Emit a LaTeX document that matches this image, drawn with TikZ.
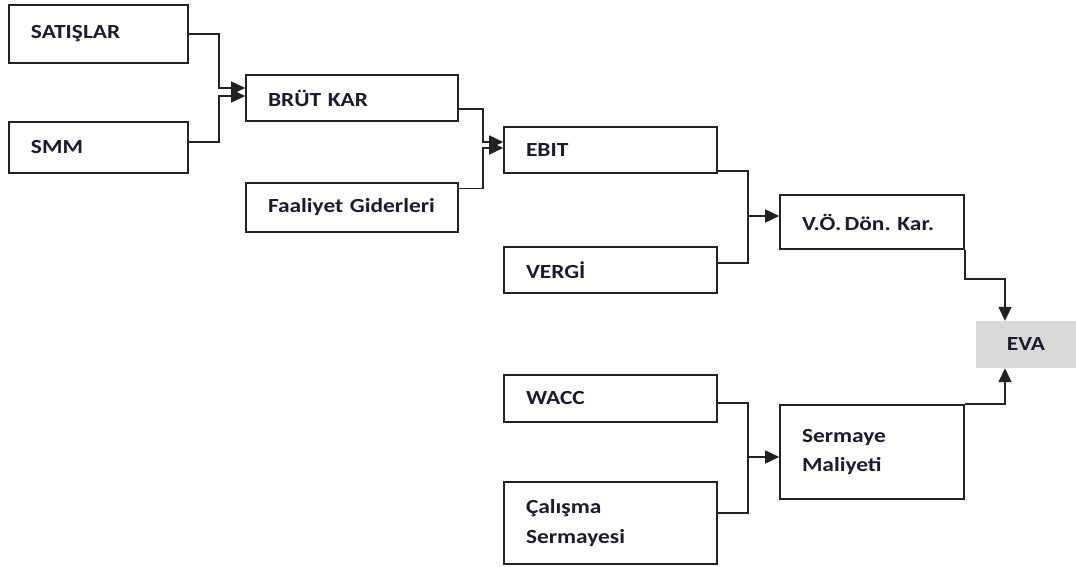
\documentclass[tikz,border=0pt]{standalone}
\usepackage{fontspec}
\setmainfont{Carlito}[FakeStretch=1.17]
\usetikzlibrary{arrows.meta}
\definecolor{edge}{HTML}{222222}
\definecolor{evafill}{HTML}{D9D9D9}
\definecolor{txt}{HTML}{1A1A30}
\frenchspacing
\begin{document}
\begin{tikzpicture}[x=1pt,y=-1pt,
  box/.style n args={2}{draw=edge, line width=1.6pt, fill=white,
    inner xsep=0pt, inner ysep=0pt, text width=#1, minimum height=#2,
    align=left, font=\fontsize{20}{29.5}\selectfont\bfseries, text=txt,
    execute at begin node={\leftskip=22pt\rightskip=0pt plus 1fil\relax}},
  link/.style={draw=edge, line width=1.6pt},
  arr/.style={link, -{Triangle[length=14pt,width=13pt]}}]
\useasboundingbox (0,0) rectangle (1076,567);
% input boxes
\node[box={179pt}{58pt}] (sat) at (98.5,34) {SATIŞLAR};
\node[box={179pt}{51pt}] (smm) at (98.5,147.5) {SMM};
\node[box={212pt}{46pt}] (brut) at (352,98) {BRÜT KAR};
\node[box={212pt}{49pt}] (faal) at (352,207.5) {Faaliyet Giderleri};
\node[box={213pt}{46pt}] (ebit) at (610.5,150) {EBIT};
\node[box={213pt}{46pt}] (vergi) at (610.5,270) {VERGİ};
\node[box={184pt}{54pt}] (vo) at (872,222) {V.Ö.\,Dön. Kar.};
\node[box={213pt}{47pt}] (wacc) at (610.5,398.5) {WACC};
\node[box={213pt}{82pt}] (cal) at (610.5,523) {Çalışma\\Sermayesi};
\node[box={184pt}{94pt}] (serm) at (872,452) {Sermaye\\Maliyeti};
% result
\node[fill=evafill, minimum width=100pt, minimum height=47pt, inner sep=0pt,
  font=\fontsize{20}{24}\selectfont\bfseries, text=txt] (eva) at (1026,344.5) {EVA};
% connectors
\draw[arr] (sat.east) -- ++(30,0) |- ([yshift=10pt]brut.west);
\draw[arr] ([yshift=5.5pt]smm.east) -- ++(30,0) |- ([yshift=2pt]brut.west);
\draw[arr] ([yshift=-11pt]brut.east) -- ++(24,0) |- ([yshift=8pt]ebit.west);
\draw[arr] ([yshift=19pt]faal.east) -- ++(24,0) |- ([yshift=2pt]ebit.west);
\coordinate (j1) at (748,216);
\coordinate (j2) at (748,457);
\draw[link] ([yshift=-21pt]ebit.east) -| (j1) |- ([yshift=7pt]vergi.east);
\draw[arr] (j1) -- (j1 -| vo.west);
\draw[link] ([yshift=-4.5pt]wacc.east) -| (j2) |- ([yshift=10pt]cal.east);
\draw[arr] (j2) -- (j2 -| serm.west);
\draw[arr] (vo.south east) -- ++(0,29) -| ([xshift=-21pt]eva.north);
\draw[arr] (serm.north east) -| ([xshift=-21pt]eva.south);
\end{tikzpicture}
\end{document}
